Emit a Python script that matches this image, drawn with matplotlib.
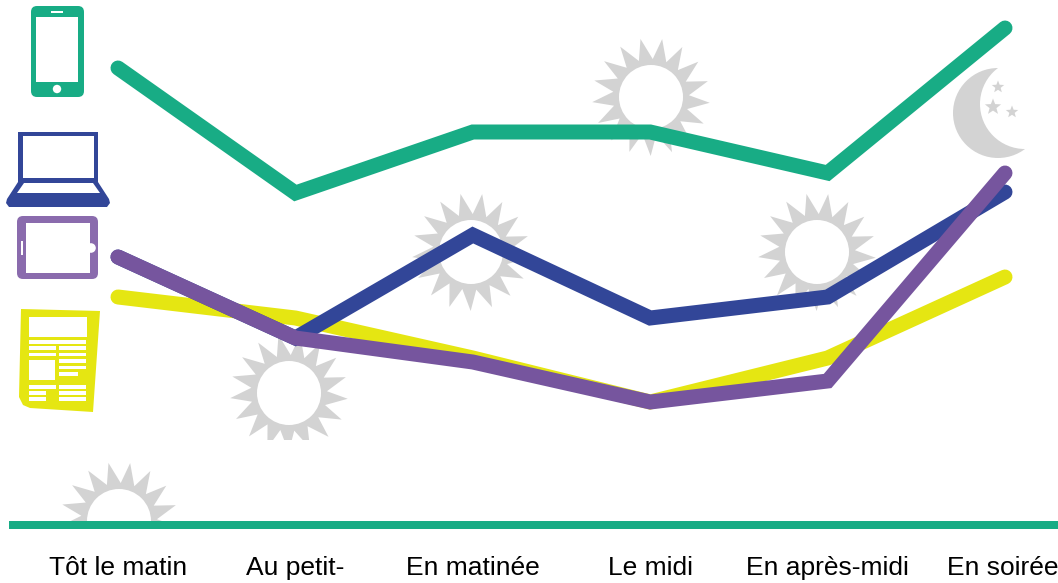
import numpy as np
import matplotlib
matplotlib.use('Agg')
import matplotlib.pyplot as plt
from matplotlib.patches import Circle, FancyBboxPatch, Polygon, Rectangle

categories = ['Tôt le matin', 'Au petit-', 'En matinée', 'Le midi', 'En après-midi', 'En soirée']
mobile = [91.2, 66.2, 78.4, 78.4, 70.2, 99.2]
ordinateur = [53.4, 37.2, 57.8, 41.2, 45.4, 66.4]
tablette = [53.4, 37.2, 32.4, 24.4, 28.6, 70.2]
presse = [45.4, 41.2, 33.2, 24.4, 33.2, 49.4]

GREEN = '#18AC85'
BLUE = '#324698'
PURPLE = '#76559E'
YELLOW = '#E5E612'
GREY = '#D3D3D3'

plt.rcParams['font.family'] = ['Liberation Sans']

fig = plt.figure(figsize=(10.58, 5.83), dpi=100)

# decoration layer in pixels
deco = fig.add_axes([0, 0, 1, 1])
deco.set_xlim(0, 1058)
deco.set_ylim(583, 0)
deco.axis('off')


def star_points(cx, cy, r_out, r_in, n, rot=0.0, twist=0.0):
    pts = []
    for i in range(n):
        a = rot + 2 * np.pi * i / n
        b = a + np.pi / n + twist
        pts.append((cx + r_out * np.cos(a), cy + r_out * np.sin(a)))
        pts.append((cx + r_in * np.cos(b), cy + r_in * np.sin(b)))
    return pts


def sun(cx, cy, clip_y=583):
    clip = Rectangle((0, 0), 1058, clip_y, transform=deco.transData)
    p = Polygon(star_points(cx, cy, 59, 38, 17, rot=-1.75, twist=0.04), fc=GREY, ec='none')
    c = Circle((cx, cy), 32, fc='white', ec='none')
    deco.add_patch(p)
    deco.add_patch(c)
    p.set_clip_path(clip)
    c.set_clip_path(clip)


def rrect(x0, y0, x1, y1, r, color):
    deco.add_patch(FancyBboxPatch((x0 + r, y0 + r), x1 - x0 - 2 * r, y1 - y0 - 2 * r,
                                  boxstyle='round,pad=%f,rounding_size=%f' % (r, r), fc=color, ec='none'))


def rect(x0, y0, x1, y1, color='white'):
    deco.add_patch(Rectangle((x0, y0), x1 - x0, y1 - y0, fc=color, ec='none'))


sun(651, 97)
sun(471, 252)
sun(817, 252)
sun(289, 393, clip_y=440)
sun(119, 521, clip_y=524)

# moon
deco.add_patch(Circle((998, 113), 45, fc=GREY, ec='none'))
deco.add_patch(Circle((1025, 104), 45, fc='white', ec='none'))
deco.add_patch(Polygon(star_points(998, 87, 6.5, 2.8, 5, rot=-np.pi / 2), fc=GREY, ec='none'))
deco.add_patch(Polygon(star_points(993, 107, 8.5, 3.6, 5, rot=-np.pi / 2), fc=GREY, ec='none'))
deco.add_patch(Polygon(star_points(1012, 112, 6.5, 2.8, 5, rot=-np.pi / 2), fc=GREY, ec='none'))

# phone
rrect(31, 6, 84, 97, 6, GREEN)
rect(36, 17, 78, 82)
rect(51, 11, 63, 12.5)
deco.add_patch(Circle((57, 89), 4.2, fc='white', ec='none'))

# laptop
rect(18, 132, 98, 190, BLUE)
rect(23, 136, 94, 178)
deco.add_patch(Polygon([(18, 182), (98, 182), (109, 199), (110, 203), (107, 207), (9, 207), (6, 203), (7, 199)],
                       fc=BLUE, ec='none'))
deco.add_patch(Polygon([(24, 183), (93, 183), (100, 193), (17, 193)], fc='white', ec='none'))

# tablet
rrect(17, 216, 98, 279, 6, '#8A6BAD')
rect(26, 223, 90, 273)
rect(20.5, 241, 22.5, 255)
deco.add_patch(Circle((91, 248), 4.8, fc='white', ec='none'))

# newspaper
deco.add_patch(Polygon([(21, 309), (100, 311), (93, 412), (30, 408), (23, 405), (19, 397)], fc=YELLOW, ec='none'))
rect(29, 317, 87, 337)
rect(29, 340, 86, 343.5)
for yy in [346, 352.5]:
    rect(29, yy, 56, yy + 3.5)
for yy in [346, 352.5, 359, 365.5]:
    rect(59, yy, 86, yy + 3.5)
rect(59, 372, 78, 375.5)
rect(29, 360, 55, 380)
rect(29, 385, 56, 388.5)
rect(29, 391, 46, 394.5)
rect(29, 397, 46, 400.5)
for yy in [385, 391, 397]:
    rect(59, yy, 86, yy + 3.5)

# data layer
ax = fig.add_axes([0, 0, 1, 1])
ax.patch.set_alpha(0)
ax.set_xlim(-118 / 177.4, (1058 - 118) / 177.4)
ax.set_ylim(-59 / 5, 524 / 5)
ax.axis('off')

x = np.arange(len(categories))
for vals, col in [(mobile, GREEN), (presse, YELLOW), (ordinateur, BLUE), (tablette, PURPLE)]:
    ax.plot(x, vals, color=col, lw=10.8, solid_capstyle='round', solid_joinstyle='miter')

rect(9, 520.5, 1058, 528.5, GREEN)
deco.set_zorder(0)
ax.set_zorder(1)

for i, lab in enumerate(categories):
    ax.text(x[i] - (0.012 if i == 5 else 0), -10.2, lab, ha='center', va='baseline', fontsize=19, color='black', clip_on=False)

fig.savefig('out.png', dpi=100)
